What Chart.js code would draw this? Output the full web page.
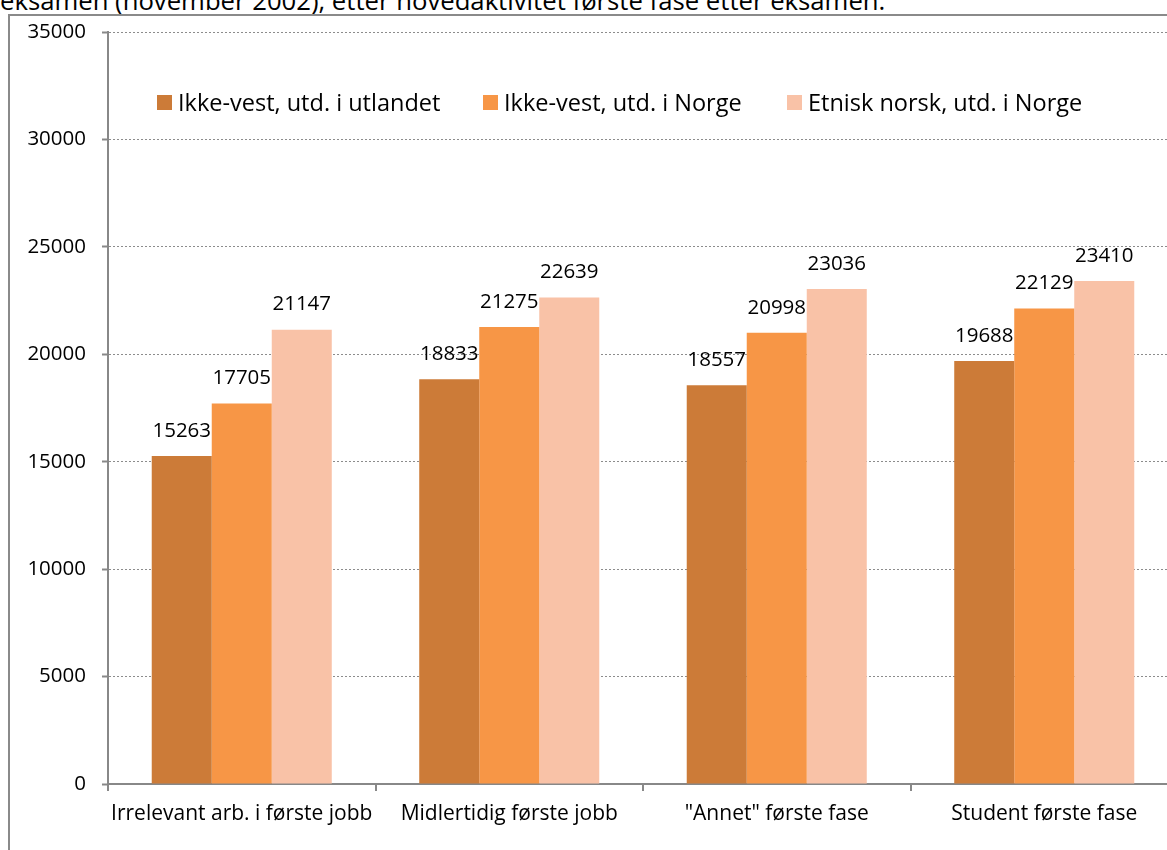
<!DOCTYPE html>
<html>
<head>
<meta charset="utf-8">
<script src="https://cdn.jsdelivr.net/npm/chart.js@4/dist/chart.umd.min.js"></script>
<style>
  html, body { margin: 0; padding: 0; width: 1167px; height: 850px; overflow: hidden; background: #fff; }
  #title { position: absolute; left: 0; top: -12px; font: 25.7px "Open Sans", sans-serif; line-height: 26px; color: #000; white-space: nowrap; }
  #frame { position: absolute; left: 8px; top: 14px; width: 1300px; height: 1000px; border: 2px solid #8a8a8a; box-sizing: border-box; }
  #wrap { position: absolute; left: 0; top: 0; width: 1190px; height: 850px; }
  .lg { position: absolute; top: 90px; font: 23.5px "Open Sans", sans-serif; line-height: 24px; color: #000; white-space: nowrap; }
  .lg span.sw { position: absolute; left: 0; top: 5px; width: 15px; height: 15px; }
  .lg span.tx { position: absolute; left: 21px; top: 0; }
</style>
</head>
<body>
<div id="title">eksamen (november 2002), etter hovedaktivitet første fase etter eksamen.</div>
<div id="frame"></div>
<div id="wrap"><canvas id="c" width="1190" height="850"></canvas></div>
<div id="legend"></div>
<script>
const categories = ['Irrelevant arb. i første jobb', 'Midlertidig første jobb', '"Annet" første fase', 'Student første fase'];
const seriesNames = ['Ikke-vest, utd. i utlandet', 'Ikke-vest, utd. i Norge', 'Etnisk norsk, utd. i Norge'];
const ikkeVestUtland = [15263, 18833, 18557, 19688];
const ikkeVestNorge = [17705, 21275, 20998, 22129];
const etniskNorsk = [21147, 22639, 23036, 23410];
const yTicks = [0, 5000, 10000, 15000, 20000, 25000, 30000, 35000];
const colors = ['#CC7B38', '#F79646', '#F9C2A7'];
const legendLeft = [157, 483, 787];

const seriesData = [ikkeVestUtland, ikkeVestNorge, etniskNorsk];

// HTML legend
const lg = document.getElementById('legend');
seriesNames.forEach((n, i) => {
  const d = document.createElement('div');
  d.className = 'lg';
  d.style.left = legendLeft[i] + 'px';
  d.innerHTML = '<span class="sw" style="background:' + colors[i] + '"></span><span class="tx">' + n + '</span>';
  lg.appendChild(d);
});

const FONT = '"Open Sans", sans-serif';

const labelPlugin = {
  id: 'valueLabels',
  afterDatasetsDraw(chart) {
    const ctx = chart.ctx;
    ctx.save();
    ctx.font = '20.5px ' + FONT;
    ctx.fillStyle = '#000';
    ctx.textAlign = 'center';
    ctx.textBaseline = 'middle';
    chart.data.datasets.forEach((ds, di) => {
      chart.getDatasetMeta(di).data.forEach((bar, i) => {
        ctx.fillText(String(ds.data[i]), bar.x, bar.y - 25);
      });
    });
    ctx.restore();
  }
};

new Chart(document.getElementById('c'), {
  type: 'bar',
  data: {
    labels: categories,
    datasets: seriesNames.map((n, i) => ({
      label: n,
      data: seriesData[i],
      backgroundColor: colors[i],
      borderWidth: 0,
      categoryPercentage: 0.673,
      barPercentage: 1.0
    }))
  },
  options: {
    responsive: false,
    animation: false,
    devicePixelRatio: 1,
    layout: { padding: { top: 32, right: 12, left: 0, bottom: 0 } },
    plugins: { legend: { display: false }, tooltip: { enabled: false }, title: { display: false } },
    scales: {
      x: {
        offset: true,
        grid: { display: true, offset: true, drawOnChartArea: false, drawTicks: true, tickLength: 7, color: '#888', lineWidth: 2 },
        border: { display: true, color: '#888', width: 2 },
        ticks: { color: '#000', font: { family: FONT, size: 21 }, padding: 10, maxRotation: 0, autoSkip: false },
        afterFit(scale) { scale.height = 66; }
      },
      y: {
        min: 0,
        max: 35000,
        afterBuildTicks(scale) { scale.ticks = yTicks.map(v => ({ value: v })); },
        grid: { color: '#8c8c8c', lineWidth: 1, drawTicks: true, tickLength: 6, tickColor: '#888', tickWidth: 2 },
        border: { display: true, color: '#888', width: 2, dash: [2, 2] },
        ticks: { color: '#000', font: { family: FONT, size: 20.5 }, padding: 16, callback: (v) => String(v) },
        afterFit(scale) { scale.width = 108; }
      }
    }
  },
  plugins: [labelPlugin]
});
</script>
</body>
</html>
